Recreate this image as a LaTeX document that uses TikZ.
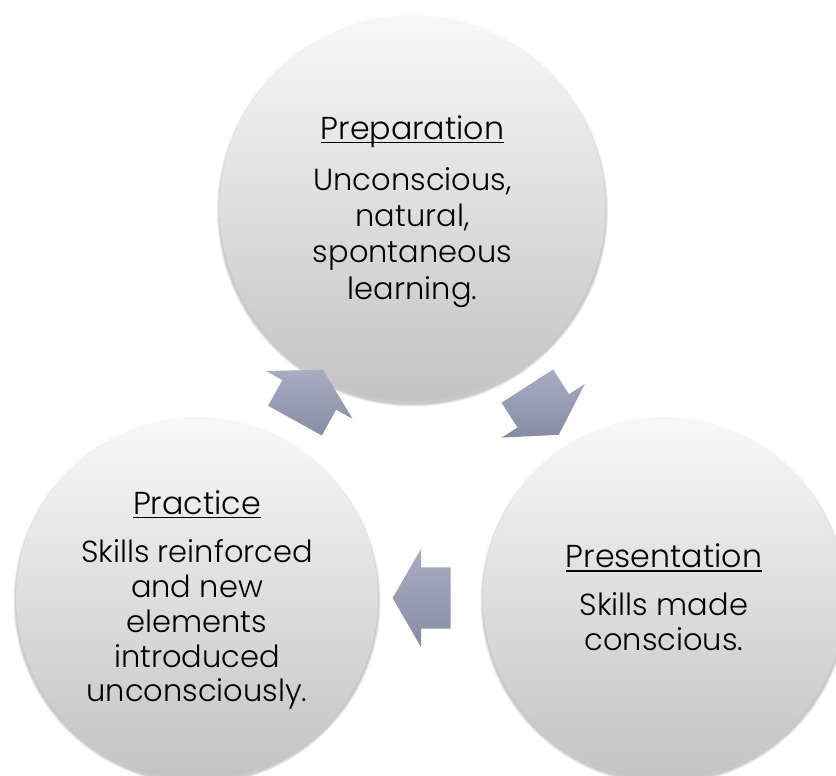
\documentclass[tikz,border=0pt]{standalone}
\usepackage{fontspec}
\setmainfont{Poppins}[UprightFont={* Light}]
\usetikzlibrary{shapes.arrows,calc}
\definecolor{circtop}{RGB}{248,248,248}
\definecolor{circbot}{RGB}{195,195,195}
\definecolor{arrtop}{RGB}{168,173,195}
\definecolor{arrbot}{RGB}{134,140,163}
\newcommand\ttlline[1]{\setbox0\hbox{\fontsize{31.8}{36}\selectfont #1}\rlap{\rule[-4bp]{\wd0}{1.4bp}}\box0}
\begin{document}
\begin{tikzpicture}[x=1bp,y=-1bp,
  bubble/.style={circle, inner sep=0pt, top color=circtop, bottom color=circbot},
  bubtext/.style={align=center, text=black, inner sep=0pt},
  bigfont/.style={font=\fontsize{30.6}{36.5}\selectfont},
  smallfont/.style={font=\fontsize{30.6}{35}\selectfont},
  softshadow/.style={fill=black, opacity=0.08},
  flow/.style={single arrow, draw=none, inner xsep=0pt, inner ysep=30.5bp,
    minimum height=58bp, single arrow head extend=18.8bp, single arrow tip angle=120,
    top color=arrtop, bottom color=arrbot, sloped, allow upside down}
]
\useasboundingbox (0,0) rectangle (836,776);
\clip (0,0) rectangle (836,776);
% soft shadows, offset downwards
\foreach \d in {0.5,1.5,2.5}{
  \fill[softshadow] (412.5,211) circle ({193bp+\d bp});
  \fill[softshadow] (197,601) circle ({181bp+\d bp});
  \fill[softshadow] (664,601) circle ({181bp+\d bp});
}
\node[bubble, minimum size=386bp] (prep) at (412.5,208) {};
\node[bubble, minimum size=362bp] (prac) at (197,598) {};
\node[bubble, minimum size=362bp] (pres) at (664,598) {};
\node[bubtext, bigfont, yshift=-3.5bp] (preptext) at (prep.center)
  {\ttlline{Preparation}\\[14.5bp]Unconscious,\\natural,\\spontaneous\\learning.};
\node[bubtext, smallfont, yshift=-2bp] (practext) at (prac.center)
  {\ttlline{Practice}\\[13.4bp]Skills reinforced\\and new\\elements\\introduced\\unconsciously.};
\node[bubtext, smallfont, yshift=0.5bp] (prestext) at (pres.center)
  {\ttlline{Presentation}\\[13.4bp]Skills made\\conscious.};
\path (prep.center) -- node[flow] (a1) {} (pres.center);
\path (pres.center) -- node[flow] (a2) {} (prac.center);
\path (prac.center) -- node[flow] (a3) {} (prep.center);
\end{tikzpicture}
\end{document}
